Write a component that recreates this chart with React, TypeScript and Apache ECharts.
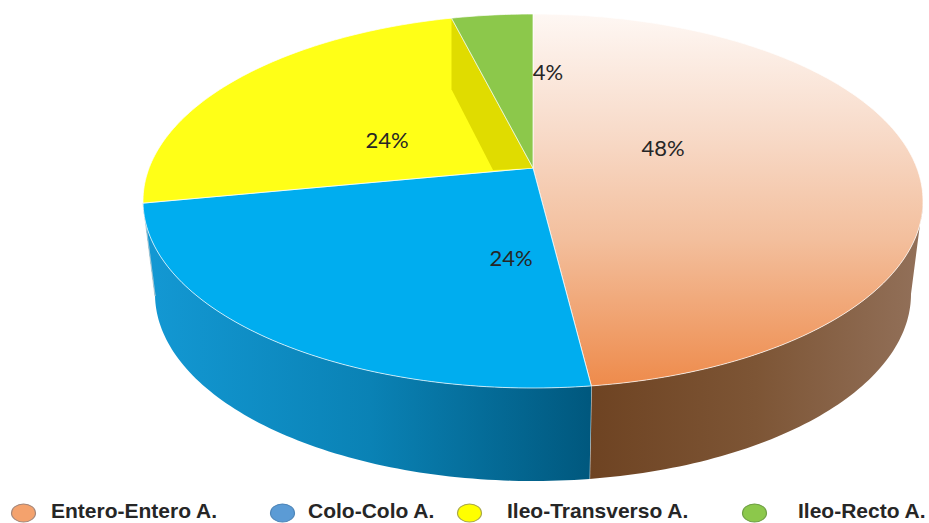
import React, { useEffect, useRef } from "react";
import * as echarts from "echarts";

const categories = ["Entero-Entero A.", "Colo-Colo A.", "Ileo-Transverso A.", "Ileo-Recto A."];
const shares = [48, 24, 24, 4];
const legendColors = ["#f4a26d", "#5b9bd5", "#ffff00", "#8cc84b"];
const legendBorders = ["#a5877a", "#4f86b8", "#a9a84a", "#6f9f45"];

// Disc geometry: upper rim, lower rim and the tilt that moves the hub off the ellipse centre.
const TOP = { cx: 533, cy: 201, rx: 390, ry: 187 };
const BOTTOM = { cx: 533, cy: 294, rx: 378, ry: 187 };
const TILT = 33 / 187;
const FRONT_START = (Math.acos(-TILT) * 180) / Math.PI;
const FRONT_END = 360 - FRONT_START;

const project = (deg: number, e: typeof TOP, r = 1): [number, number] => {
  const a = (deg * Math.PI) / 180;
  const x = r * Math.sin(a);
  const y = r * Math.cos(a);
  const d = 1 + TILT * y;
  const k = Math.sqrt(1 - TILT * TILT);
  return [e.cx + (e.rx * x * k) / d, e.cy - (e.ry * (y + TILT)) / d];
};

const rim = (from: number, to: number, e: typeof TOP) => {
  const pts: [number, number][] = [];
  const n = Math.max(2, Math.ceil(Math.abs(to - from)));
  for (let i = 0; i <= n; i++) pts.push(project(from + ((to - from) * i) / n, e));
  return pts;
};

const total = shares.reduce((a, b) => a + b, 0);
const span = (i: number): [number, number] => {
  const before = shares.slice(0, i).reduce((a, b) => a + b, 0);
  return [(before / total) * 360, ((before + shares[i]) / total) * 360];
};

const grad = (x1: number, y1: number, x2: number, y2: number, stops: [number, string][]) =>
  new echarts.graphic.LinearGradient(
    x1, y1, x2, y2,
    stops.map(([offset, color]) => ({ offset, color })),
    true
  );

const topFill = (i: number) =>
  [
    grad(0, 15, 0, 388, [
      [0, "#fef7f3"],
      [0.3, "#f8dccb"],
      [0.6, "#f3bf9d"],
      [1, "#ee8a4a"],
    ]),
    "#00adef",
    "#ffff17",
    "#8cc84b",
  ][i];

const wallFill = (i: number) =>
  i === 0
    ? grad(590, 0, 920, 0, [
        [0, "#6e4322"],
        [0.5, "#7d5535"],
        [1, "#927059"],
      ])
    : grad(150, 0, 590, 0, [
        [0, "#1398d3"],
        [0.5, "#0a82b5"],
        [1, "#00587e"],
      ]);

const renderWall = (params: any, api: any) => {
  const i = params.dataIndex;
  api.value(0);
  const [a, b] = span(i);
  const from = Math.max(a, FRONT_START);
  const to = Math.min(b, FRONT_END);
  if (to <= from) return { type: "group", children: [] };
  const children: any[] = [
    {
      type: "polygon",
      shape: { points: [...rim(from, to, TOP), ...rim(to, from, BOTTOM)] },
      style: { fill: wallFill(i) },
    },
  ];
  if (b < FRONT_END) {
    const p = project(b, TOP);
    const q = project(b, BOTTOM);
    children.push({
      type: "line",
      shape: { x1: p[0], y1: p[1], x2: q[0], y2: q[1] },
      style: { stroke: "#c9d3d6", lineWidth: 1.2 },
    });
  }
  return { type: "group", children };
};

const renderTop = (params: any, api: any) => {
  const i = params.dataIndex;
  api.value(0);
  const [a, b] = span(i);
  const hub = project(0, TOP, 0);
  const children: any[] = [
    {
      type: "polygon",
      shape: { points: [hub, ...rim(a, b, TOP)] },
      style: { fill: topFill(i), stroke: "rgba(255,255,255,0.7)", lineWidth: 1 },
    },
  ];
  // The yellow slice shows the shaded cut face along its closing edge.
  if (i === 2) {
    const end = project(b, TOP);
    children.push({
      type: "polygon",
      shape: {
        points: [end, [end[0], end[1] + 71], [hub[0] - 40, hub[1] + 2], hub],
      },
      style: { fill: "#e0dc00" },
    });
    children.push({
      type: "line",
      shape: { x1: hub[0], y1: hub[1], x2: end[0], y2: end[1] },
      style: { stroke: "#e4ee70", lineWidth: 1 },
    });
  }
  return { type: "group", children };
};

const labelAnchors: [number, number][] = [
  [663, 147],
  [511, 257],
  [387, 139],
  [548, 71],
];

const renderLabel = (params: any, api: any) => ({
  type: "text",
  x: labelAnchors[params.dataIndex][0],
  y: labelAnchors[params.dataIndex][1],
  style: {
    text: `${api.value(0)}%`,
    fill: "#262626",
    font: "22px Lato",
    align: "center",
    verticalAlign: "middle",
  },
});

const legendMarkX = [23.5, 282.5, 469.5, 754.5];
const legendTextX = [51, 308, 507, 798];

const legendGraphic = categories.flatMap((name, i) => [
  {
    type: "ellipse",
    shape: { cx: legendMarkX[i], cy: 513, rx: 12, ry: 9 },
    style: { fill: legendColors[i], stroke: legendBorders[i], lineWidth: 1.2 },
  },
  {
    type: "text",
    x: legendTextX[i],
    y: 510.5,
    style: {
      text: name,
      fill: "#262626",
      font: "bold 21px 'Liberation Sans'",
      verticalAlign: "middle",
    },
  },
]);

export default function App() {
  const ref = useRef<HTMLDivElement>(null);
  useEffect(() => {
    document.body.style.margin = "0";
    const chart = echarts.init(ref.current!, null, { renderer: "svg" });
    const data = shares.map((v, i) => ({ name: categories[i], value: [v] }));
    const base = { type: "custom", coordinateSystem: "none", silent: true, data, clip: false };
    chart.setOption({
      animation: false,
      backgroundColor: "#ffffff",
      series: [
        { ...base, renderItem: renderWall, z: 1 },
        { ...base, renderItem: renderTop, z: 2 },
        { ...base, renderItem: renderLabel, z: 3 },
      ],
      graphic: legendGraphic,
    });
    return () => chart.dispose();
  }, []);
  return <div ref={ref} style={{ width: 929, height: 523 }} />;
}
